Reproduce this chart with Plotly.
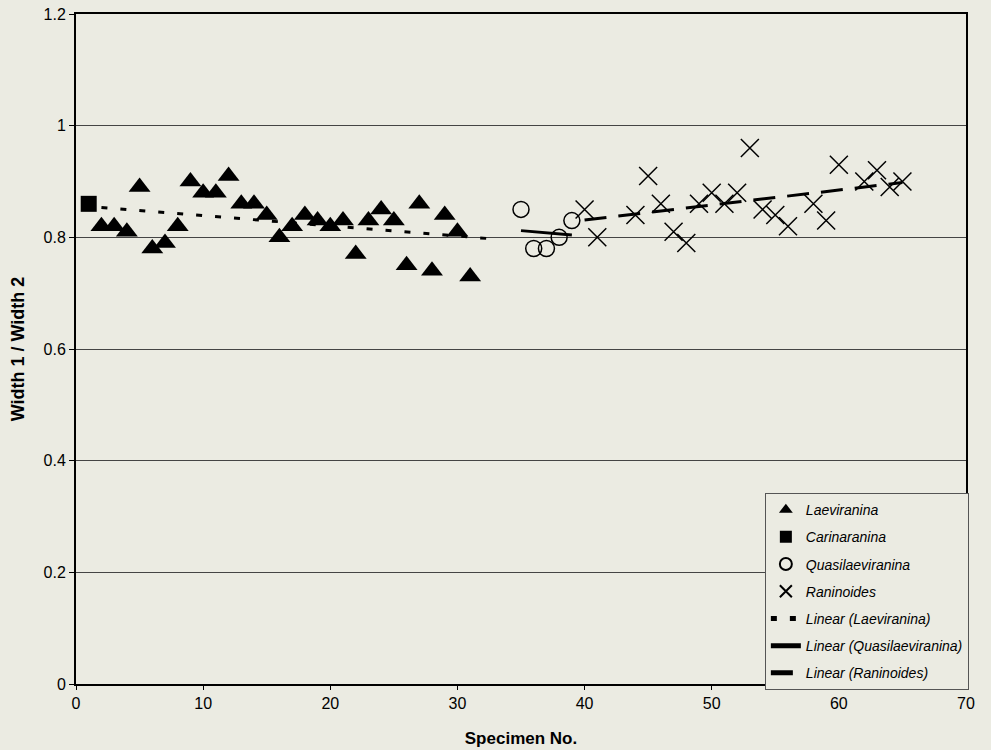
import numpy as np
import plotly.graph_objects as go

# ---- data ----
laev_x = list(range(2, 32))
laev_y = [0.82, 0.82, 0.81, 0.89, 0.78, 0.79, 0.82, 0.90, 0.88, 0.88,
          0.91, 0.86, 0.86, 0.84, 0.80, 0.82, 0.84, 0.83, 0.82, 0.83,
          0.77, 0.83, 0.85, 0.83, 0.75, 0.86, 0.74, 0.84, 0.81, 0.73]

cari_x = [1]
cari_y = [0.86]

quas_x = [35, 36, 37, 38, 39]
quas_y = [0.85, 0.78, 0.78, 0.80, 0.83]

rani_x = [40, 41, 44, 45, 46, 47, 48, 49, 50, 51, 52, 53, 54, 55, 56,
          58, 59, 60, 62, 63, 64, 65]
rani_y = [0.85, 0.80, 0.84, 0.91, 0.86, 0.81, 0.79, 0.86, 0.88, 0.86,
          0.88, 0.96, 0.85, 0.84, 0.82, 0.86, 0.83, 0.93, 0.90, 0.92,
          0.89, 0.90]

x_ticks = [0, 10, 20, 30, 40, 50, 60, 70]
y_ticks = [0, 0.2, 0.4, 0.6, 0.8, 1.0, 1.2]
y_ticktext = ["0", "0.2", "0.4", "0.6", "0.8", "1", "1.2"]
laev_forecast = 2  # trendline extended forward


def trend(xs, ys, forward=0):
    slope, icpt = np.polyfit(xs, ys, 1)
    x0, x1 = min(xs), max(xs) + forward
    return [x0, x1], [slope * x0 + icpt, slope * x1 + icpt]


BG = "#ebebe2"
FONT = "Liberation Sans, Arial, sans-serif"

fig = go.Figure()

fig.add_trace(go.Scatter(
    x=laev_x, y=laev_y, mode="markers", name="Laeviranina", legendgroup="a",
    marker=dict(symbol="triangle-up", size=19, color="black")))
fig.add_trace(go.Scatter(
    x=cari_x, y=cari_y, mode="markers", name="Carinaranina", legendgroup="b",
    marker=dict(symbol="square", size=16, color="black")))
fig.add_trace(go.Scatter(
    x=quas_x, y=quas_y, mode="markers", name="Quasilaeviranina", legendgroup="c",
    marker=dict(symbol="circle-open", size=16, color="black",
                line=dict(width=1.5, color="black"))))
fig.add_trace(go.Scatter(
    x=rani_x, y=rani_y, mode="markers", name="Raninoides", legendgroup="d",
    marker=dict(symbol="x-thin-open", size=18, color="black",
                line=dict(width=1.5, color="black"))))

tx, ty = trend(laev_x, laev_y, laev_forecast)
fig.add_trace(go.Scatter(
    x=tx, y=ty, mode="lines", name="Linear (Laeviranina)", legendgroup="e",
    line=dict(color="black", width=3, dash="6px,13px")))
tx, ty = trend(quas_x, quas_y)
fig.add_trace(go.Scatter(
    x=tx, y=ty, mode="lines", name="Linear (Quasilaeviranina)", legendgroup="f",
    line=dict(color="black", width=3)))
tx, ty = trend(rani_x, rani_y)
fig.add_trace(go.Scatter(
    x=tx, y=ty, mode="lines", name="Linear (Raninoides)", legendgroup="g",
    line=dict(color="black", width=3, dash="22px,12px")))

fig.update_layout(
    width=991, height=750,
    margin=dict(l=76, r=25, t=14, b=66, autoexpand=False),
    paper_bgcolor=BG, plot_bgcolor=BG,
    font=dict(family=FONT, size=16, color="black"),
    showlegend=True,
    legend=dict(
        x=0.774, y=0.285, xanchor="left", yanchor="top",
        bgcolor=BG, bordercolor="#555", borderwidth=1,
        font=dict(family=FONT, size=14, style="italic", color="black"),
        itemsizing="constant", tracegroupgap=6,
    ),
    xaxis=dict(
        range=[0, 70], tickvals=x_ticks, ticktext=[str(v) for v in x_ticks],
        showgrid=False, zeroline=False,
        showline=True, linecolor="black", linewidth=2, mirror=True,
        ticks="outside", ticklen=4, tickcolor="black",
        tickfont=dict(size=16),
        title=dict(text="<b>Specimen No.</b>", font=dict(size=17), standoff=21),
    ),
    yaxis=dict(
        range=[0, 1.2], tickvals=y_ticks, ticktext=y_ticktext,
        showgrid=True, gridcolor="#444", gridwidth=1, zeroline=False,
        showline=True, linecolor="black", linewidth=2, mirror=True,
        ticks="outside", ticklen=5, tickcolor="black",
        tickfont=dict(size=16),
        title=dict(text="<b>Width 1 / Width 2</b>", font=dict(size=18), standoff=14),
    ),
)

fig.write_html("out.html",
               config={"displayModeBar": False},
               post_script="document.body.style.margin='0';"
                           "document.body.style.background='" + BG + "';")
